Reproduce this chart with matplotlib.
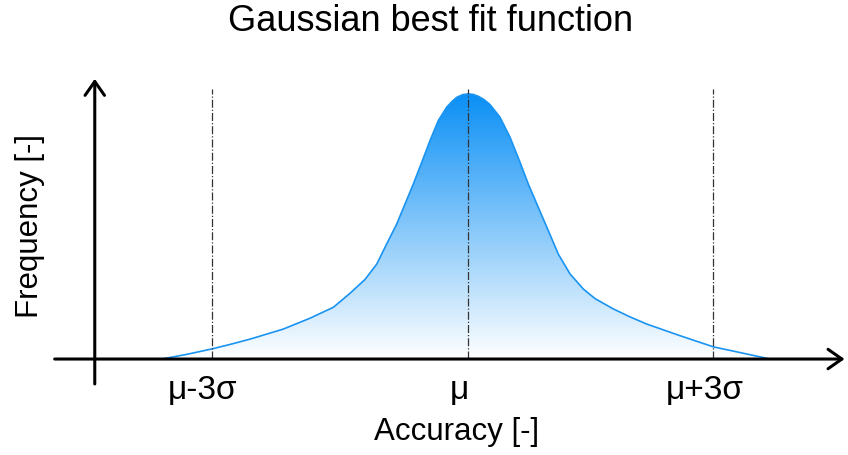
import numpy as np
import matplotlib.pyplot as plt
from matplotlib.colors import LinearSegmentedColormap
from matplotlib.transforms import offset_copy

plt.rcParams['font.family'] = ['Liberation Sans', 'DejaVu Sans']

# fitted curve, x relative to mu (sigma-ish units), y normalised to the peak
curve_x = [-3.668, -3.377, -3.069, -2.850, -2.611, -2.212, -1.892, -1.613, -1.413,
           -1.234, -1.093, -0.974, -0.854, -0.754, -0.655, -0.554, -0.455, -0.356, -0.255,
           -0.190, -0.135, -0.065, 0.0, 0.062, 0.123, 0.190, 0.263, 0.383, 0.503, 0.623,
           0.722, 0.842, 0.962, 1.081, 1.222, 1.381, 1.521, 1.740, 1.940, 2.140, 2.539,
           2.938, 3.338, 3.617]
curve_y = [0.0, 0.017, 0.038, 0.055, 0.075, 0.113, 0.154, 0.195, 0.248,
           0.300, 0.358, 0.434, 0.509, 0.585, 0.660, 0.742, 0.824, 0.899, 0.950,
           0.972, 0.987, 0.997, 1.0, 0.998, 0.991, 0.979, 0.960, 0.912, 0.837, 0.742,
           0.660, 0.572, 0.484, 0.396, 0.321, 0.264, 0.228, 0.189, 0.159, 0.132, 0.088,
           0.046, 0.019, 0.0]

marker_pos = [-3.07, 0, 2.94]
marker_labels = ['μ-3σ', 'μ', 'μ+3σ']

fig = plt.figure(figsize=(8.48, 4.56), dpi=100)
ax = fig.add_axes([0, 0, 1, 1])
ax.set_xlim(-5.605, 4.551)
ax.set_ylim(-0.362, 1.358)
ax.axis('off')

# gradient fill under the curve
cmap = LinearSegmentedColormap.from_list('blues', ['#ffffff', '#0a8ff5'])
grad = np.linspace(0, 1, 256).reshape(-1, 1)
img = ax.imshow(grad, cmap=cmap, aspect='auto', origin='lower',
                extent=[min(curve_x), max(curve_x), 0, max(curve_y)], zorder=1)
poly = ax.fill_between(curve_x, curve_y, 0, color='none', lw=0)
img.set_clip_path(poly.get_paths()[0], transform=ax.transData)
ax.plot(curve_x, curve_y, color='#1a94f2', lw=1.2, zorder=3, solid_joinstyle='round')

# mu and +-3 sigma markers
ax.vlines(marker_pos, 0, 1.02, colors='#333333', linestyles='dashdot', lw=0.9, zorder=4)
lab_tr = offset_copy(ax.transData, fig=fig, x=-9, y=0, units='dots')
for xp, lab in zip(marker_pos, marker_labels):
    ax.text(xp, -0.115, lab, ha='center', va='center', fontsize=24, transform=lab_tr)

# axes with arrow heads
arrow = dict(arrowstyle='->,head_length=0.5,head_width=0.35', lw=2.2, color='black',
             shrinkA=0, shrinkB=0, mutation_scale=20)
ax.annotate('', xy=(4.51, 0), xytext=(-4.95, 0), arrowprops=arrow, zorder=5)
ax.annotate('', xy=(-4.47, 1.057), xytext=(-4.47, -0.094), arrowprops=arrow, zorder=5)

fig.text(0.508, 0.952, 'Gaussian best fit function', ha='center', va='center', fontsize=26)
fig.text(0.538, 0.053, 'Accuracy [-]', ha='center', va='center', fontsize=22.5)
fig.text(0.035, 0.504, 'Frequency [-]', ha='center', va='center', rotation=90, fontsize=22.5)

fig.savefig('out.png', dpi=100)
